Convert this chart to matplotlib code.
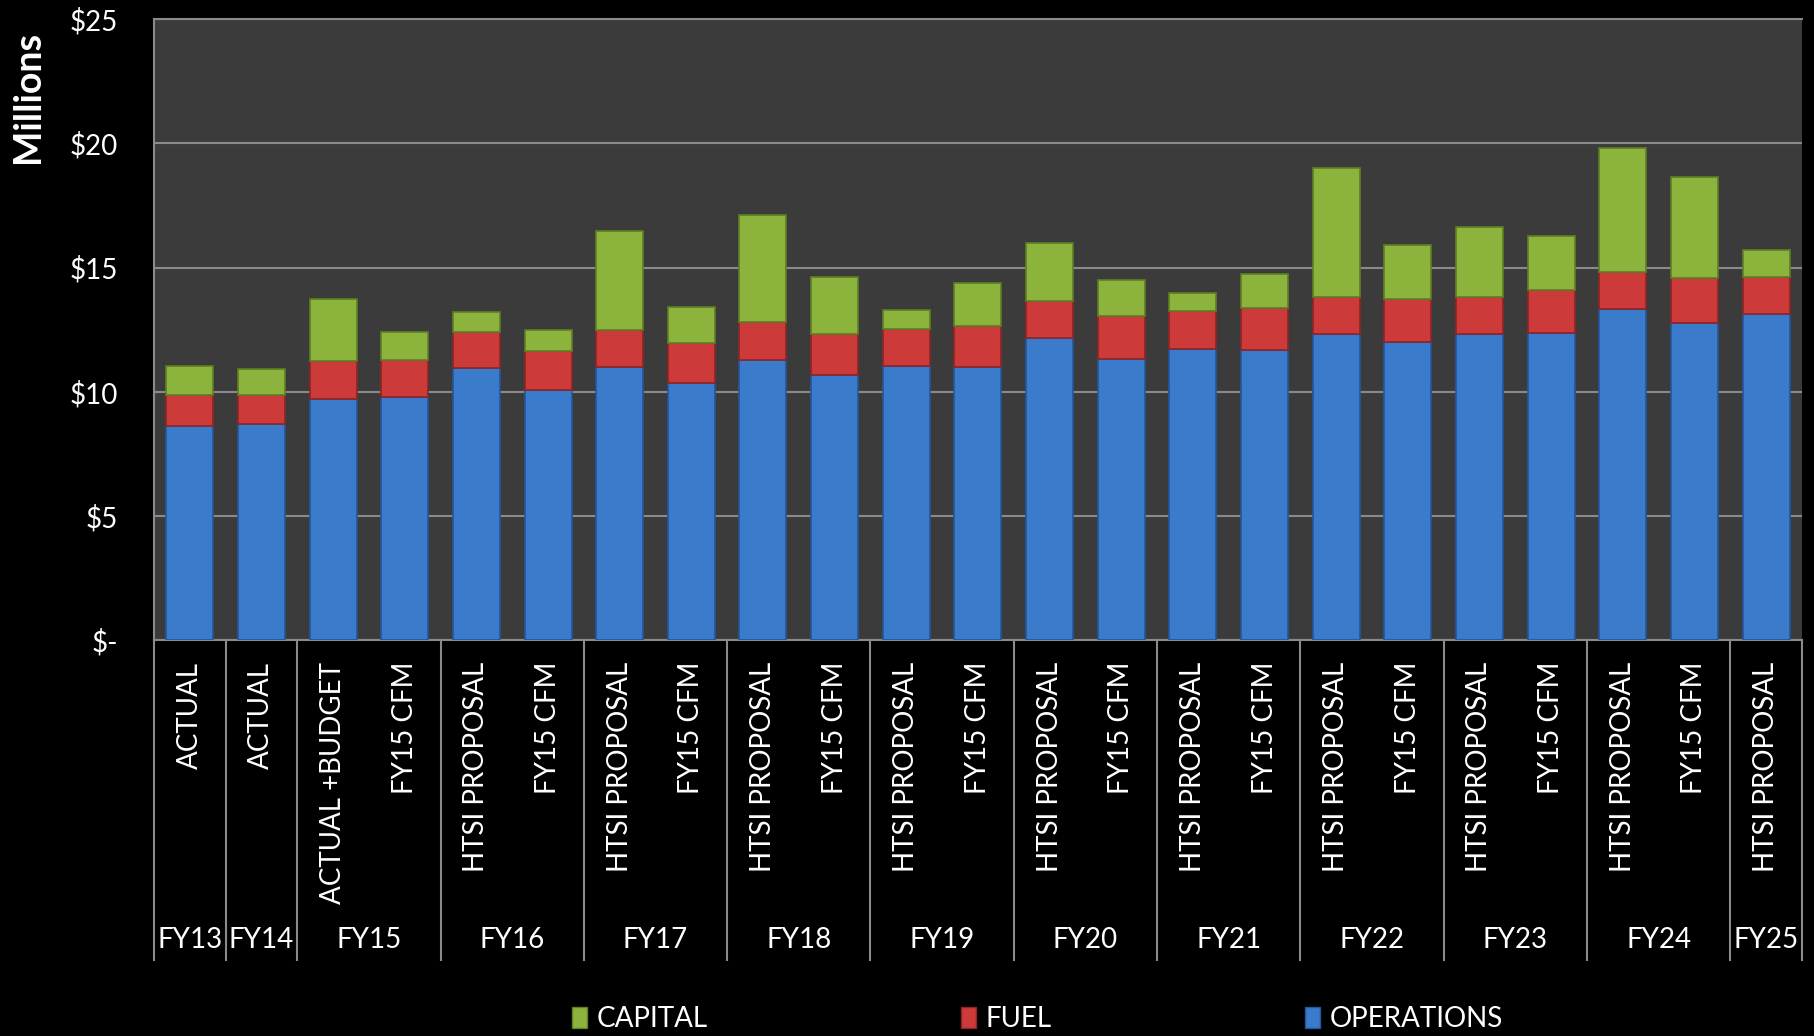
import matplotlib.pyplot as plt
import matplotlib.transforms as mtransforms
from matplotlib.patches import Patch
import numpy as np

# chart values ($ millions), one entry per bar
bar_labels = ['ACTUAL', 'ACTUAL', 'ACTUAL +BUDGET', 'FY15 CFM',
              'HTSI PROPOSAL', 'FY15 CFM', 'HTSI PROPOSAL', 'FY15 CFM',
              'HTSI PROPOSAL', 'FY15 CFM', 'HTSI PROPOSAL', 'FY15 CFM',
              'HTSI PROPOSAL', 'FY15 CFM', 'HTSI PROPOSAL', 'FY15 CFM',
              'HTSI PROPOSAL', 'FY15 CFM', 'HTSI PROPOSAL', 'FY15 CFM',
              'HTSI PROPOSAL', 'FY15 CFM', 'HTSI PROPOSAL']
groups = ['FY13', 'FY14', 'FY15', 'FY16', 'FY17', 'FY18', 'FY19', 'FY20',
          'FY21', 'FY22', 'FY23', 'FY24', 'FY25']
group_sizes = [1, 1, 2, 2, 2, 2, 2, 2, 2, 2, 2, 2, 1]

operations = [8.63, 8.72, 9.73, 9.80, 10.96, 10.06, 10.99, 10.34, 11.27, 10.66,
              11.03, 10.99, 12.15, 11.31, 11.73, 11.69, 12.34, 12.01, 12.34,
              12.38, 13.33, 12.75, 13.14]
fuel = [1.25, 1.17, 1.52, 1.48, 1.46, 1.58, 1.49, 1.62, 1.53, 1.68,
        1.49, 1.67, 1.49, 1.73, 1.54, 1.67, 1.49, 1.72, 1.49,
        1.73, 1.50, 1.85, 1.50]
capital = [1.17, 1.03, 2.48, 1.14, 0.81, 0.84, 4.00, 1.45, 4.33, 2.28,
           0.79, 1.73, 2.33, 1.44, 0.70, 1.40, 5.16, 2.19, 2.79,
           2.14, 4.99, 4.05, 1.05]

bg = 'black'
plot_bg = '#3b3b3b'
grid_c = '#8a8a8a'
c_ops, c_fuel, c_cap = '#3a7bcc', '#cc3a3a', '#8cb43c'
e_ops, e_fuel, e_cap = '#25569a', '#8e2424', '#5f7f25'

plt.rcParams['font.family'] = ['Lato', 'DejaVu Sans']

fig = plt.figure(figsize=(18.15, 10.36), dpi=100, facecolor=bg)
ax = fig.add_axes([0.0848, 0.3818, 0.908, 0.5999])
ax.set_facecolor(plot_bg)

x = np.arange(len(bar_labels))
ops = np.array(operations)
fu = np.array(fuel)
cap = np.array(capital)
w = 0.656
ax.bar(x, ops, w, color=c_ops, edgecolor=e_ops, linewidth=1.2, zorder=3)
ax.bar(x, fu, w, bottom=ops, color=c_fuel, edgecolor=e_fuel, linewidth=1.2, zorder=3)
ax.bar(x, cap, w, bottom=ops + fu, color=c_cap, edgecolor=e_cap, linewidth=1.2, zorder=3)

ax.set_xlim(-0.5, len(bar_labels) - 0.5)
ax.set_ylim(0, 25)
yt = [0, 5, 10, 15, 20, 25]
ax.set_yticks(yt)
ax.set_yticklabels(['$-' if v == 0 else '$%d' % v for v in yt], color='white', fontsize=20)
ax.tick_params(axis='y', length=0, pad=26)
ax.set_xticks([])
ax.yaxis.grid(True, color=grid_c, linewidth=1.5, zorder=1)
for s in ax.spines.values():
    s.set_color(grid_c)
    s.set_linewidth(1.5)
ax.spines['right'].set_visible(False)

trans = mtransforms.blended_transform_factory(ax.transData, ax.transAxes)
for i, lab in enumerate(bar_labels):
    ax.text(i, -0.034, lab, transform=trans, rotation=90, ha='center', va='top',
            color='white', fontsize=20)

# group labels and separators
edges = np.concatenate([[0], np.cumsum(group_sizes)]) - 0.5
for k, g in enumerate(groups):
    ax.text((edges[k] + edges[k + 1]) / 2, -0.482, g, transform=trans,
            ha='center', va='center', color='white', fontsize=20)
for e in edges:
    ax.plot([e, e], [0, -0.514], transform=trans, color=grid_c, linewidth=1.5,
            clip_on=False)

fig.text(0.0154, 0.906, 'Millions', rotation=90, ha='center', va='center',
         color='white', fontsize=27, fontweight='bold')

handles = [Patch(facecolor=c_cap, edgecolor=e_cap, label='CAPITAL'),
           Patch(facecolor=c_fuel, edgecolor=e_fuel, label='FUEL'),
           Patch(facecolor=c_ops, edgecolor=e_ops, label='OPERATIONS')]
fig.legend(handles=handles, loc='center', bbox_to_anchor=(0.5716, 0.0164), ncol=3,
           frameon=False, fontsize=20, labelcolor='white', handlelength=0.55,
           handleheight=0.8, handletextpad=0.35, columnspacing=9.1,
           borderpad=0)

fig.savefig('out.png', dpi=100, facecolor=bg)
